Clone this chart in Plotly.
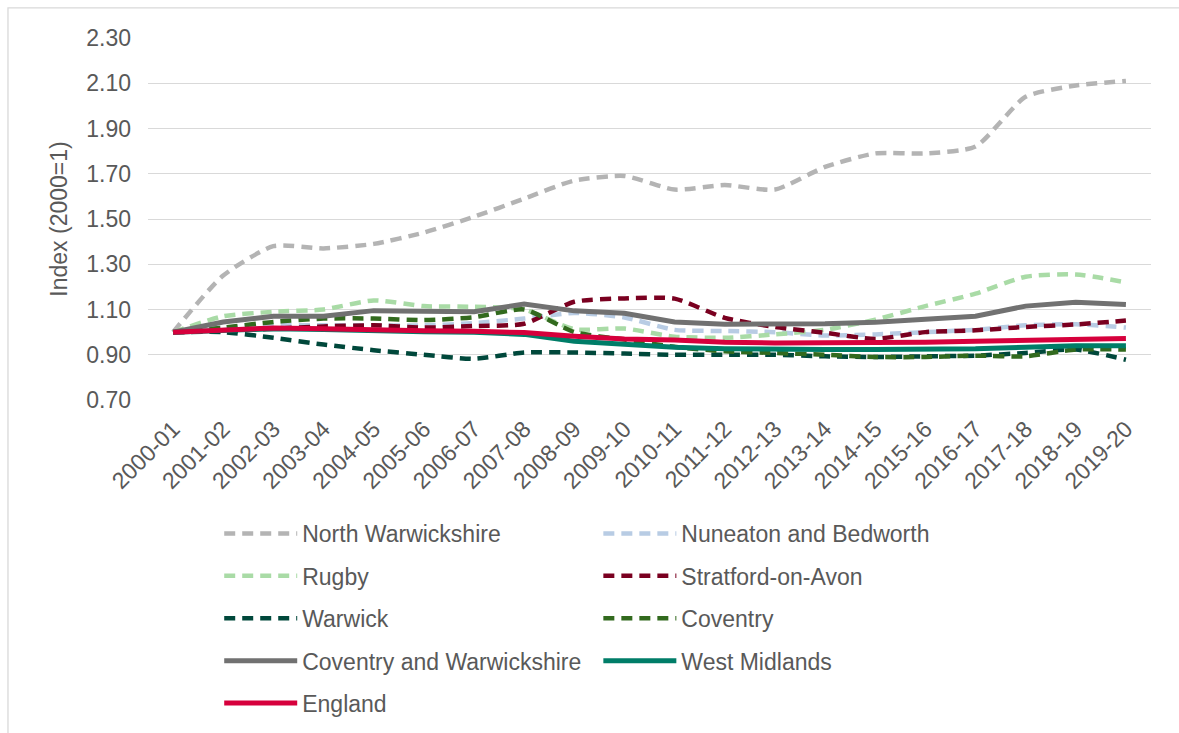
import plotly.graph_objects as go

# Index of values (2000-01 = 1) for Coventry and Warwickshire areas
years = ["2000-01", "2001-02", "2002-03", "2003-04", "2004-05", "2005-06", "2006-07",
         "2007-08", "2008-09", "2009-10", "2010-11", "2011-12", "2012-13", "2013-14",
         "2014-15", "2015-16", "2016-17", "2017-18", "2018-19", "2019-20"]

north_warwickshire = [1.00, 1.25, 1.38, 1.37, 1.39, 1.44, 1.51, 1.59, 1.67, 1.69,
                      1.63, 1.65, 1.63, 1.73, 1.79, 1.79, 1.82, 2.04, 2.09, 2.11]
nuneaton_bedworth = [1.00, 1.02, 1.03, 1.03, 1.03, 1.03, 1.04, 1.06, 1.085, 1.065,
                     1.01, 1.005, 1.00, 0.985, 0.99, 1.00, 1.01, 1.03, 1.035, 1.02]
rugby = [1.00, 1.07, 1.09, 1.10, 1.14, 1.115, 1.112, 1.10, 1.013, 1.016,
         0.98, 0.975, 0.99, 1.01, 1.055, 1.115, 1.17, 1.245, 1.255, 1.22]
stratford = [1.00, 1.005, 1.015, 1.025, 1.03, 1.02, 1.027, 1.037, 1.134, 1.149,
             1.148, 1.063, 1.023, 0.997, 0.97, 1.00, 1.008, 1.023, 1.034, 1.051]
warwick = [1.00, 1.00, 0.975, 0.945, 0.92, 0.90, 0.882, 0.91, 0.91, 0.905,
           0.90, 0.90, 0.90, 0.893, 0.89, 0.893, 0.896, 0.908, 0.923, 0.878]
coventry = [1.00, 1.02, 1.045, 1.06, 1.06, 1.053, 1.066, 1.10, 1.00, 0.967,
            0.935, 0.915, 0.908, 0.90, 0.89, 0.89, 0.896, 0.893, 0.923, 0.923]
cov_and_warks = [1.00, 1.045, 1.07, 1.07, 1.095, 1.09, 1.09, 1.124, 1.094, 1.083,
                 1.045, 1.035, 1.035, 1.037, 1.044, 1.056, 1.07, 1.115, 1.132, 1.122]
west_midlands = [1.00, 1.01, 1.015, 1.012, 1.005, 1.002, 1.00, 0.99, 0.96, 0.945,
                 0.933, 0.927, 0.923, 0.923, 0.923, 0.923, 0.926, 0.933, 0.94, 0.94]
england = [1.00, 1.01, 1.018, 1.015, 1.008, 1.006, 1.004, 0.998, 0.982, 0.97,
           0.965, 0.955, 0.952, 0.952, 0.952, 0.955, 0.96, 0.963, 0.967, 0.972]

# name, values, colour, dashed, legend column
series = [
    ("North Warwickshire", north_warwickshire, "#B4B4B4", True, "legend"),
    ("Nuneaton and Bedworth", nuneaton_bedworth, "#B8CCE4", True, "legend2"),
    ("Rugby", rugby, "#A9DBA6", True, "legend"),
    ("Stratford-on-Avon", stratford, "#7A0020", True, "legend2"),
    ("Warwick", warwick, "#00483B", True, "legend"),
    ("Coventry", coventry, "#326A1E", True, "legend2"),
    ("Coventry and Warwickshire", cov_and_warks, "#717171", False, "legend"),
    ("West Midlands", west_midlands, "#007D68", False, "legend2"),
    ("England", england, "#D6003C", False, "legend"),
]

FONT = "Liberation Sans, Arial, sans-serif"
GREY_TEXT = "#595959"
FS = 23

fig = go.Figure()
for name, vals, colour, dashed, leg in series:
    fig.add_trace(go.Scatter(
        x=years, y=vals, name=name, mode="lines",
        line=dict(color=colour, width=4.5 if dashed else 5,
                  dash="11px,7px" if dashed else "solid",
                  shape="spline" if dashed else "linear", smoothing=0.6),
        legend=leg, legendgroup=name,
    ))

legend_common = dict(
    orientation="v", yanchor="top", xanchor="left", yref="container",
    font=dict(family=FONT, size=FS, color=GREY_TEXT),
    itemwidth=73, tracegroupgap=9.5, bgcolor="rgba(0,0,0,0)",
    traceorder="grouped",
)

fig.update_layout(
    width=1179, height=733,
    margin=dict(l=148, r=28, t=38, b=333),
    paper_bgcolor="white", plot_bgcolor="white",
    font=dict(family=FONT, size=FS, color=GREY_TEXT),
    showlegend=True,
    legend=dict(x=0.071, y=0.3015, **legend_common),
    legend2=dict(x=0.449, y=0.3015, **legend_common),
    xaxis=dict(
        type="category", range=[-0.5, 19.5], tickangle=-45,
        showgrid=False, showline=False, zeroline=False, ticks="",
        ticklabelstandoff=10, automargin=False,
        tickfont=dict(family=FONT, size=FS, color=GREY_TEXT),
    ),
    yaxis=dict(
        range=[0.7, 2.3], tickvals=[0.7, 0.9, 1.1, 1.3, 1.5, 1.7, 1.9, 2.1, 2.3],
        tickformat=".2f", showgrid=True, gridcolor="#D9D9D9", gridwidth=1.3,
        zeroline=False, showline=False, ticks="", ticklabelstandoff=16,
        automargin=False,
        tickfont=dict(family=FONT, size=FS, color=GREY_TEXT),
        title=dict(text="Index (2000=1)", standoff=12,
                   font=dict(family=FONT, size=FS, color=GREY_TEXT)),
    ),
    shapes=[dict(type="rect", xref="paper", yref="paper",
                 x0=-0.1396, x1=1.05, y0=-1.0, y1=1.083,
                 line=dict(color="#D9D9D9", width=1.3), fillcolor="rgba(0,0,0,0)",
                 layer="below")],
)

# remove the page's default body margin so the chart sits at the top-left corner
fig.write_html("out.html", config={"displayModeBar": False},
               post_script="document.body.style.margin='0';")
